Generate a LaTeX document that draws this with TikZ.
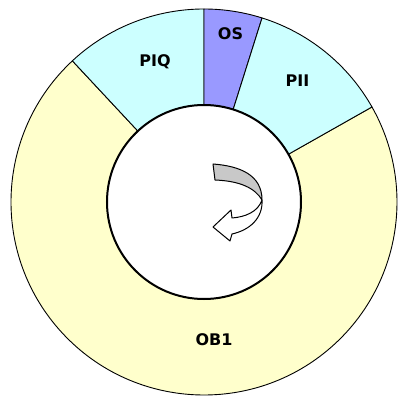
\documentclass[tikz,border=0pt]{standalone}
\usepackage{fontspec}
\newfontfamily\lblfont{DejaVu Sans}
\definecolor{cyanseg}{HTML}{CCFFFF}
\definecolor{osseg}{HTML}{9999FF}
\definecolor{obseg}{HTML}{FFFFCC}
\definecolor{arrowgray}{HTML}{C8C8C8}
\begin{document}
\begin{tikzpicture}[x=1pt,y=1pt,
  seg/.style={draw=black,line width=0.9pt,line join=round},
  lbl/.style={font=\lblfont\bfseries\fontsize{16}{16}\selectfont,anchor=base,inner sep=0pt},
  arr/.style={draw=black,line width=1pt,line join=round}]
\useasboundingbox (-204,-196) rectangle (193,202);
\def\R{193}
\def\r{97}
% OB1 (from 29.5 ccw... clockwise to 133)
\path[seg,fill=obseg] (133:\R) arc[start angle=133,end angle=389.5,radius=\R] -- (389.5:\r) arc[start angle=389.5,end angle=133,radius=\r] -- cycle;
% PIQ
\path[seg,fill=cyanseg] (90:\R) arc[start angle=90,end angle=133,radius=\R] -- (133:\r) arc[start angle=133,end angle=90,radius=\r] -- cycle;
% OS
\path[seg,fill=osseg] (72.5:\R) arc[start angle=72.5,end angle=90,radius=\R] -- (90:\r) arc[start angle=90,end angle=72.5,radius=\r] -- cycle;
% PII
\path[seg,fill=cyanseg] (29.5:\R) arc[start angle=29.5,end angle=72.5,radius=\R] -- (72.5:\r) arc[start angle=72.5,end angle=29.5,radius=\r] -- cycle;
% inner circle
\draw[line width=2pt,fill=white] (0,0) circle[radius=\r];
% labels
\node[lbl] (piq) at (-49,135) {PIQ};
\node[lbl] (os) at (26.5,162) {OS};
\node[lbl] (pii) at (93.5,115) {PII};
\node[lbl] (ob1) at (10,-143) {OB1};
% curved arrow: gray tail
\path[arr,fill=arrowgray] (9,38) .. controls (36,36) and (58,27) .. (58,2)
  .. controls (51,14) and (36,21) .. (11,22) -- cycle;
% white head
\path[arr,fill=white] (58,2) .. controls (54,-10) and (41,-15) .. (28,-16)
  -- (27,-8) -- (9,-25) -- (26,-39) -- (28,-32)
  .. controls (46,-28) and (59,-16) .. (58,2) -- cycle;
\end{tikzpicture}
\end{document}
